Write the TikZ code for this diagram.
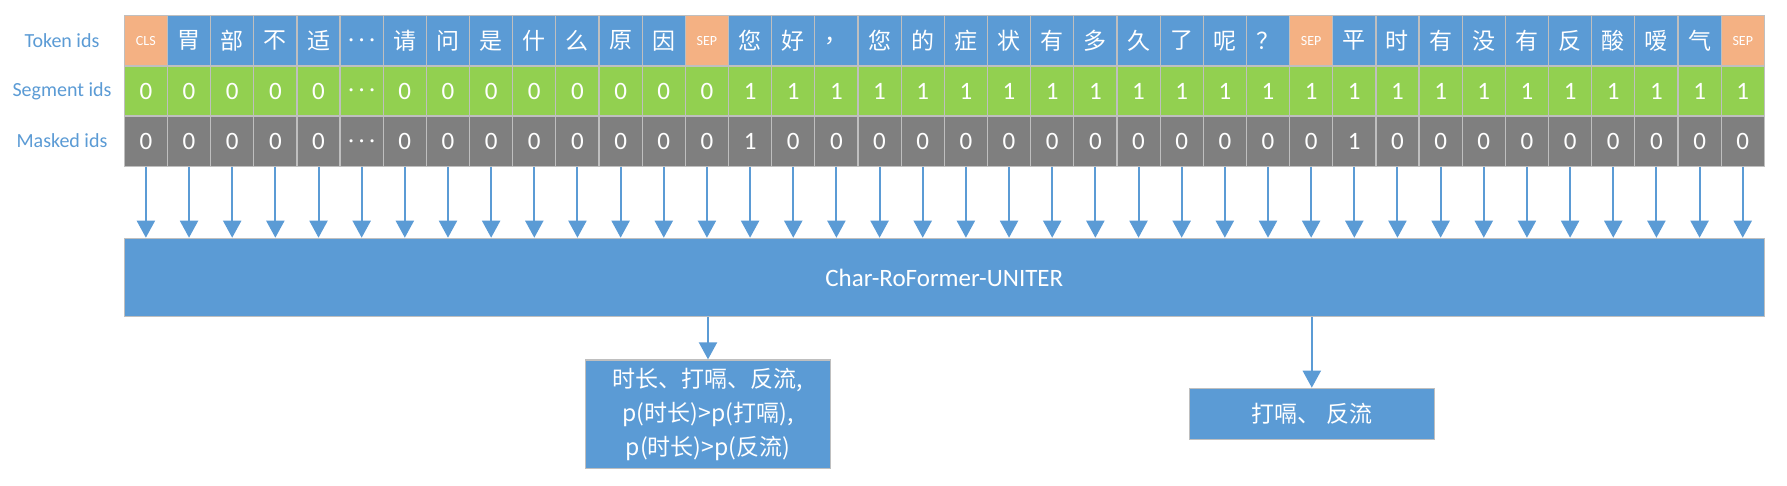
\documentclass[tikz,border=0pt]{standalone}
\usepackage{fontspec}
\setmainfont{Carlito}
\newfontfamily\cjk{Noto Sans CJK SC}
\usetikzlibrary{arrows.meta}
\definecolor{tokblue}{HTML}{5B9BD5}
\definecolor{sporange}{HTML}{F4B183}
\definecolor{seggreen}{HTML}{92D050}
\definecolor{maskgray}{HTML}{7F7F7F}
\definecolor{cellline}{HTML}{BFBFBF}
\definecolor{lblblue}{HTML}{5B9BD5}
\newcommand\mydots{{\fontsize{21}{21}\selectfont\boldmath$\cdots$}}
\tikzset{
  cell/.style={draw=cellline, line width=1.2pt, minimum width=43.16pt, minimum height=50pt, inner sep=0pt, text=white, anchor=center},
  tokc/.style={cell, fill=tokblue, font=\cjk\fontsize{23}{23}\selectfont},
  spc/.style={cell, fill=sporange, font=\fontsize{14}{14}\selectfont},
  segc/.style={cell, fill=seggreen, font=\fontsize{25}{25}\selectfont},
  maskc/.style={cell, fill=maskgray, font=\fontsize{25}{25}\selectfont},
  rowlabel/.style={text=lblblue, font=\fontsize{20}{20}\selectfont, anchor=center, inner sep=0pt},
  bigbox/.style={draw=cellline, line width=1.2pt, fill=tokblue, text=white, inner sep=0pt},
  arr/.style={draw=tokblue, line width=2pt, -{Triangle[width=18pt,length=17pt]}}
}
\begin{document}
\begin{tikzpicture}[x=1pt,y=-1pt]
\useasboundingbox (0,0) rectangle (1787,485);
\fill[white] (0,0) rectangle (1787,485);
% row labels
\node[rowlabel] (lt) at (62,40.7) {Token ids};
\node[rowlabel] (ls) at (62,91) {Segment ids};
\node[rowlabel] (lm) at (62,141) {Masked ids};
% token row
\foreach \tok/\sty [count=\i] in {CLS/spc,胃/tokc,部/tokc,不/tokc,适/tokc,\mydots/tokc,请/tokc,问/tokc,是/tokc,什/tokc,么/tokc,原/tokc,因/tokc,SEP/spc,您/tokc,好/tokc,，/tokc,您/tokc,的/tokc,症/tokc,状/tokc,有/tokc,多/tokc,久/tokc,了/tokc,呢/tokc,？/tokc,SEP/spc,平/tokc,时/tokc,有/tokc,没/tokc,有/tokc,反/tokc,酸/tokc,嗳/tokc,气/tokc,SEP/spc}
  \node[\sty] (t\i) at ({124.3+(\i-0.5)*43.158},40.8) {\tok};
% segment row
\foreach \v [count=\i] in {0,0,0,0,0,\mydots,0,0,0,0,0,0,0,0,1,1,1,1,1,1,1,1,1,1,1,1,1,1,1,1,1,1,1,1,1,1,1,1}
  \node[segc] (s\i) at ({124.3+(\i-0.5)*43.158},91) {\v};
% masked row
\foreach \v [count=\i] in {0,0,0,0,0,\mydots,0,0,0,0,0,0,0,0,1,0,0,0,0,0,0,0,0,0,0,0,0,0,1,0,0,0,0,0,0,0,0,0}
  \node[maskc] (m\i) at ({124.3+(\i-0.5)*43.158},141.2) {\v};
% main encoder box
\node[bigbox, minimum width=1640pt, minimum height=78.4pt, font=\fontsize{25}{25}\selectfont] (main) at (944.3,277.5) {Char-RoFormer-UNITER};
\foreach \i in {1,...,38}
  \draw[arr] (m\i.south) -- (m\i.south |- main.north);
% outputs
\node[bigbox, minimum width=244.6pt, minimum height=108.7pt, align=center, font=\cjk\fontsize{23}{34}\selectfont] (out1) at (708,414.3)
  {时长、打嗝、反流,\\p(时长)>p(打嗝),\\p(时长)>p(反流)};
\node[bigbox, minimum width=245pt, minimum height=51pt, font=\cjk\fontsize{23}{23}\selectfont] (out2) at (1311.8,413.8)
  {打嗝、\hspace{6pt}反流};
\draw[arr] (main.south -| out1.north) -- (out1.north);
\draw[arr] (main.south -| out2.north) -- (out2.north);
\end{tikzpicture}
\end{document}
